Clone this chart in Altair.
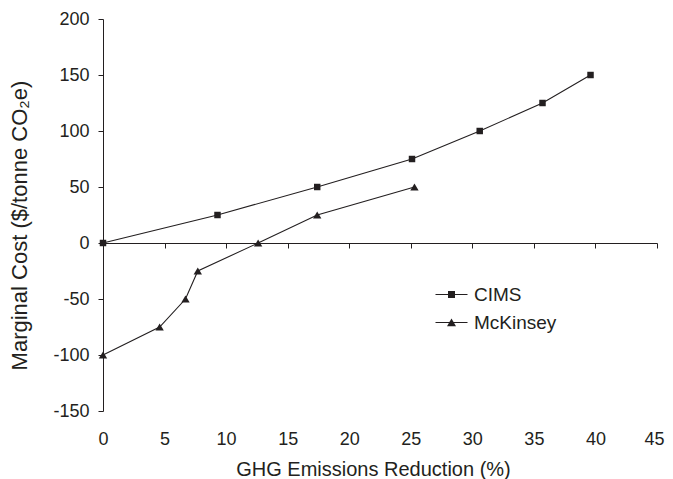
import altair as alt
import pandas as pd

cims_x = [0, 9.3, 17.4, 25.1, 30.6, 35.7, 39.6]
cims_y = [0, 25, 50, 75, 100, 125, 150]
mck_x = [0, 4.6, 6.7, 7.7, 12.6, 17.4, 25.3]
mck_y = [-100, -75, -50, -25, 0, 25, 50]
series = ["CIMS", "McKinsey"]
x_ticks = [0, 5, 10, 15, 20, 25, 30, 35, 40, 45]
y_ticks = [-150, -100, -50, 0, 50, 100, 150, 200]

rows = []
for x, y in zip(cims_x, cims_y):
    rows.append({"x": x, "y": y, "s": "CIMS"})
for x, y in zip(mck_x, mck_y):
    rows.append({"x": x, "y": y, "s": "McKinsey"})
df = pd.DataFrame(rows)

INK = "#231f20"
FONT = "Liberation Sans"
W, H = 554, 392

xscale = alt.Scale(domain=[0, 45], nice=False, zero=False)
yscale = alt.Scale(domain=[-150, 200], nice=False, zero=False)

yaxis = alt.Axis(values=y_ticks, title="Marginal Cost ($/tonne CO₂e)", grid=False,
                 tickSize=5, labelPadding=9, titlePadding=21, titleFontSize=22,
                 titleY=206, labelExpr="'' + datum.value")

LX, LY = 339, 266
seg = "M-3.2,0H3.2"
sq = "M-0.7,-0.7H0.7V0.7H-0.7Z"
tri = "M0,-0.8L0.9,0.75H-0.9Z"

def legend(label_color, **kw):
    return alt.Legend(orient="none", legendX=LX, legendY=LY, title=None,
                      symbolSize=100, symbolStrokeWidth=1.1,
                      labelFontSize=19, labelFont=FONT, labelColor=label_color,
                      labelOffset=13, rowPadding=8, padding=0, **kw)

base = alt.Chart(df)

lines = base.mark_line(strokeWidth=1.1).encode(
    x=alt.X("x:Q", scale=xscale,
            axis=alt.Axis(values=x_ticks, title="GHG Emissions Reduction (%)", grid=False,
                          orient="bottom", domain=False, ticks=False, tickSize=0,
                          labelFlush=False, labelPadding=19, titlePadding=11,
                          labelOffset={"condition": {"test": "datum.value == 45", "value": -3},
                                       "value": 0},
                          titleFontSize=20, titleX=270)),
    y=alt.Y("y:Q", scale=yscale, axis=yaxis),
    color=alt.Color("s:N", scale=alt.Scale(domain=series, range=[INK, INK]),
                    legend=legend("transparent", symbolType=seg)),
)

points = base.mark_point(filled=True, color=INK, opacity=1).encode(
    x=alt.X("x:Q", scale=xscale,
            axis=alt.Axis(values=x_ticks, labels=False, title=None, grid=False, orient="bottom",
                          domain=True, ticks=True, tickSize=5, offset=-168)),
    y=alt.Y("y:Q", scale=yscale, axis=yaxis),
    shape=alt.Shape("s:N", scale=alt.Scale(domain=series, range=["square", "triangle-up"]),
                    legend=None),
    size=alt.condition(alt.datum.s == "CIMS", alt.value(42), alt.value(70)),
)

# legend-only layer (no marks drawn): marker symbols with series labels
legend_marks = base.transform_filter("false").mark_point(
    filled=True, color=INK, opacity=1
).encode(
    x=alt.X("x:Q", scale=xscale, axis=None),
    y=alt.Y("y:Q", scale=yscale, axis=yaxis),
    shape=alt.Shape("s:N", scale=alt.Scale(domain=series, range=[sq, tri]),
                    legend=legend(INK)),
)

chart = alt.layer(lines, points, legend_marks).resolve_axis(
    x="independent"
).resolve_scale(shape="independent").properties(
    width=W, height=H,
    autosize=alt.AutoSizeParams(type="none"),
    padding={"left": 95, "top": 11, "right": 8, "bottom": 70},
).configure_view(stroke=None).configure_axis(
    domainColor=INK, tickColor=INK, labelColor=INK, titleColor=INK,
    labelFont=FONT, titleFont=FONT, labelFontSize=18,
    titleFontWeight="normal", domainWidth=1, tickWidth=1,
)

chart.save("out.html", embed_options={"renderer": "svg", "actions": False})
